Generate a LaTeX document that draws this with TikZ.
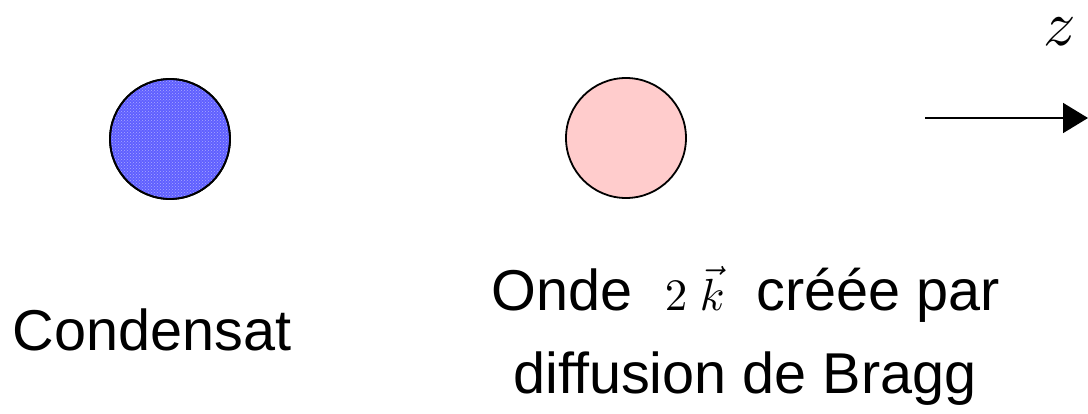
\documentclass[tikz,border=0pt]{standalone}
\usepackage{fontspec}
\setmainfont{Liberation Sans}
\usetikzlibrary{arrows.meta,patterns}
\definecolor{condblue}{RGB}{95,95,255}
\definecolor{dotblue}{RGB}{170,170,255}
\definecolor{wavepink}{RGB}{255,204,204}
\begin{document}
\begin{tikzpicture}[x=1pt,y=-1pt,
  blob/.style={circle,draw=black,line width=1.8pt,minimum size=120pt,inner sep=0pt},
  lbl/.style={anchor=base,inner sep=0pt,font=\fontsize{57.6}{69}\selectfont}]
\useasboundingbox (0,0) rectangle (1088,413);
\node[blob,fill=condblue] (cond) at (170,139) {};
\fill[pattern=crosshatch dots,pattern color=dotblue] (cond.center) circle (59pt);
\draw[line width=1.8pt] (cond.center) circle (60pt);
\node[blob,fill=wavepink] (wave) at (626,138) {};
\node[lbl] (tcond) at (152,350) {Condensat};
\node[lbl] (tw1) at (746,310) {Onde\ \ \scalebox{4.5}{\normalsize$2\;\vec{k}$}\ \ créée par};
\node[lbl] (tw2) at (745,393) {diffusion de Bragg};
\coordinate (a0) at (925,118);
\coordinate (a1) at (1088,118);
\draw[line width=1.8pt,-{Triangle[length=25pt,width=30pt]}] (a0) -- (a1);
\node[anchor=base,inner sep=0pt] (z) at (1060,45) {\scalebox{6.4}{\normalsize$z$}};
\end{tikzpicture}
\end{document}
